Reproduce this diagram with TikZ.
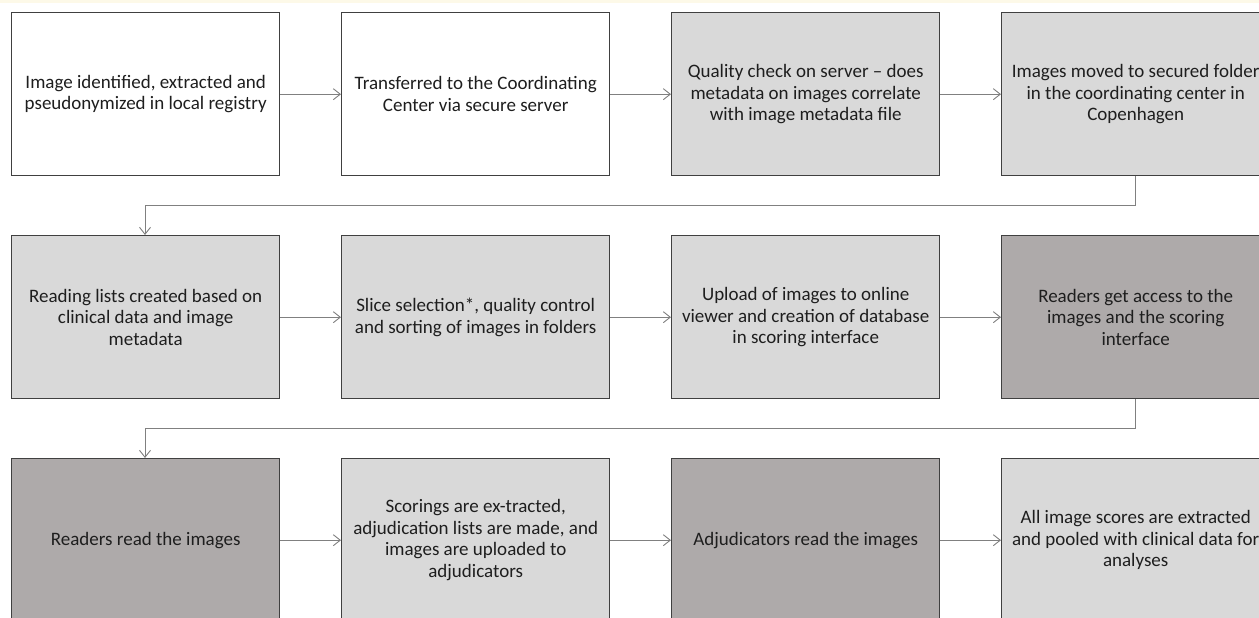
\documentclass[tikz,border=0pt]{standalone}
\usepackage{fontspec}
\setmainfont{Carlito}
\usetikzlibrary{arrows.meta}
\definecolor{boxline}{HTML}{404040}
\definecolor{lightfill}{HTML}{D9D9D9}
\definecolor{darkfill}{HTML}{AEAAAA}
\definecolor{linkgray}{HTML}{808080}
\definecolor{txt}{HTML}{1E1E1E}
\definecolor{cream}{HTML}{FDF9E8}
\tikzset{
  stepbox/.style={draw=boxline, line width=1.4pt, minimum width=268pt, minimum height=163pt,
    inner sep=0pt, anchor=north west, align=center, text=txt,
    font=\fontsize{19}{21.5}\selectfont},
  plainbox/.style={stepbox, fill=white},
  lightbox/.style={stepbox, fill=lightfill},
  darkbox/.style={stepbox, fill=darkfill},
  link/.style={draw=linkgray, line width=0.9pt, -{Straight Barb[length=7pt, width=11pt, line width=0.9pt]}},
}
\begin{document}
\begin{tikzpicture}[x=1pt, y=-1pt]
\useasboundingbox (0,0) rectangle (1259,618);
\fill[white] (0,0) rectangle (1259,618);
\fill[cream] (0,0) rectangle (1259,3);

% first row
\node[plainbox] (a1) at (11,12) {Image identified, extracted and\\pseudonymized in local registry};
\node[plainbox] (a2) at (341,12) {Transferred to the Coordinating\\Center via secure server};
\node[lightbox] (a3) at (671,12) {Quality check on server -- does\\metadata on images correlate\\with image metadata file};
\node[lightbox] (a4) at (1001,12) {Images moved to secured folder\\in the coordinating center in\\Copenhagen};

% second row
\node[lightbox] (b1) at (11,235) {Reading lists created based on\\clinical data and image\\metadata};
\node[lightbox] (b2) at (341,235) {Slice selection*, quality control\\and sorting of images in folders};
\node[lightbox] (b3) at (671,235) {Upload of images to online\\viewer and creation of database\\in scoring interface};
\node[darkbox] (b4) at (1001,235) {Readers get access to the\\images and the scoring\\interface};

% third row
\node[darkbox] (c1) at (11,458) {Readers read the images};
\node[lightbox] (c2) at (341,458) {Scorings are ex-tracted,\\adjudication lists are made, and\\images are uploaded to\\adjudicators};
\node[darkbox] (c3) at (671,458) {Adjudicators read the images};
\node[lightbox] (c4) at (1001,458) {All image scores are extracted\\and pooled with clinical data for\\analyses};

% horizontal links
\draw[link] (a1) -- (a2);
\draw[link] (a2) -- (a3);
\draw[link] (a3) -- (a4);
\draw[link] (b1) -- (b2);
\draw[link] (b2) -- (b3);
\draw[link] (b3) -- (b4);
\draw[link] (c1) -- (c2);
\draw[link] (c2) -- (c3);
\draw[link] (c3) -- (c4);

% row-to-row links
\coordinate (t1) at (145,235);
\coordinate (t2) at (145,458);
\draw[link] (a4.south) |- (t1 |- 0,205) -- (b1.north -| t1);
\draw[link] (b4.south) |- (t2 |- 0,428) -- (c1.north -| t2);
\end{tikzpicture}
\end{document}
